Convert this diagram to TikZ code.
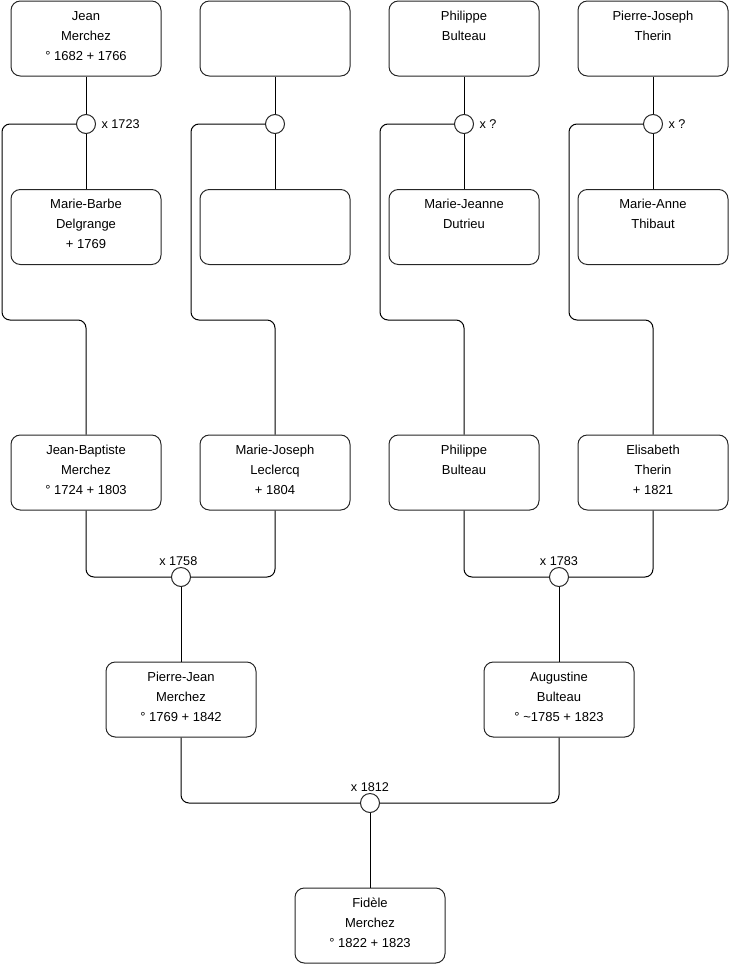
\documentclass[tikz,border=0pt]{standalone}
\usepackage{fontspec}
\setmainfont{Liberation Sans}
\newcommand{\ptxt}[1]{\parbox[c][56.25pt][t]{112.5pt}{\centering\fontsize{9.75pt}{15pt}\selectfont\rule{0pt}{14.3pt}#1\par}}
\begin{document}
\begin{tikzpicture}[x=0.75pt,y=-0.75pt,
  person/.style={draw=black!85, line width=0.75pt, rounded corners=7pt, minimum width=112.5pt, minimum height=56.25pt, inner sep=0pt, fill=white},
  marr/.style={circle, draw=black!85, line width=0.75pt, minimum size=14.25pt, inner sep=0pt, fill=white},
  lbl/.style={inner sep=0pt, font=\fontsize{9.5pt}{11pt}\selectfont},
  conn/.style={draw=black, line width=0.75pt, rounded corners=6pt}]
\path[use as bounding box] (0,0) rectangle (740,975);
% row 1
\node[person] (a1) at (86,38.5) {\ptxt{Jean\\Merchez\\° 1682 + 1766}};
\node[person] (a2) at (275,38.5) {\ptxt{}};
\node[person] (a3) at (464,38.5) {\ptxt{Philippe\\Bulteau}};
\node[person] (a4) at (653,38.5) {\ptxt{Pierre-Joseph\\Therin}};
% row 2
\node[person] (b1) at (86,227) {\ptxt{Marie-Barbe\\Delgrange\\+ 1769}};
\node[person] (b2) at (275,227) {\ptxt{}};
\node[person] (b3) at (464,227) {\ptxt{Marie-Jeanne\\Dutrieu}};
\node[person] (b4) at (653,227) {\ptxt{Marie-Anne\\Thibaut}};
% row 3
\node[person] (c1) at (86,472.5) {\ptxt{Jean-Baptiste\\Merchez\\° 1724 + 1803}};
\node[person] (c2) at (275,472.5) {\ptxt{Marie-Joseph\\Leclercq\\+ 1804}};
\node[person] (c3) at (464,472.5) {\ptxt{Philippe\\Bulteau}};
\node[person] (c4) at (653,472.5) {\ptxt{Elisabeth\\Therin\\+ 1821}};
% row 4
\node[person] (d1) at (181,699.5) {\ptxt{Pierre-Jean\\Merchez\\° 1769 + 1842}};
\node[person] (d2) at (559,699.5) {\ptxt{Augustine\\Bulteau\\° {\char"7E}1785 + 1823}};
% row 5
\node[person] (e1) at (370,925.5) {\ptxt{Fidèle\\Merchez\\° 1822 + 1823}};
% marriage circles
\node[marr] (m1) at (86,124) {};
\node[marr] (m2) at (275,124) {};
\node[marr] (m3) at (464,124) {};
\node[marr] (m4) at (653,124) {};
\node[marr] (m5) at (181,577) {};
\node[marr] (m6) at (559,577) {};
\node[marr] (m7) at (370,803) {};
% labels
\node[lbl, anchor=west] (l1) at ([xshift=4]m1.east) {x 1723};
\node[lbl, anchor=west] (l3) at ([xshift=4]m3.east) {x ?};
\node[lbl, anchor=west] (l4) at ([xshift=4]m4.east) {x ?};
\node[lbl, anchor=south] (l5) at ([xshift=-2,yshift=1]m5.north) {x 1758};
\node[lbl, anchor=south] (l6) at ([yshift=1]m6.north) {x 1783};
\node[lbl, anchor=south] (l7) at ([yshift=1]m7.north) {x 1812};
% connectors rows 1-2
\foreach \i in {1,2,3,4}{
  \draw[conn] (a\i.south) -- (m\i.north);
  \draw[conn] (m\i.south) -- (b\i.north);
}
\draw[conn] (m1.west) -| (2,320) -| (c1.north);
\draw[conn] (m2.west) -| (191,320) -| (c2.north);
\draw[conn] (m3.west) -| (380,320) -| (c3.north);
\draw[conn] (m4.west) -| (569,320) -| (c4.north);
% rows 3-4
\draw[conn] (c1.south) |- (m5.west);
\draw[conn] (c2.south) |- (m5.east);
\draw[conn] (m5.south) -- (d1.north);
\draw[conn] (c3.south) |- (m6.west);
\draw[conn] (c4.south) |- (m6.east);
\draw[conn] (m6.south) -- (d2.north);
% rows 4-5
\draw[conn] (d1.south) |- (m7.west);
\draw[conn] (d2.south) |- (m7.east);
\draw[conn] (m7.south) -- (e1.north);
\end{tikzpicture}
\end{document}
